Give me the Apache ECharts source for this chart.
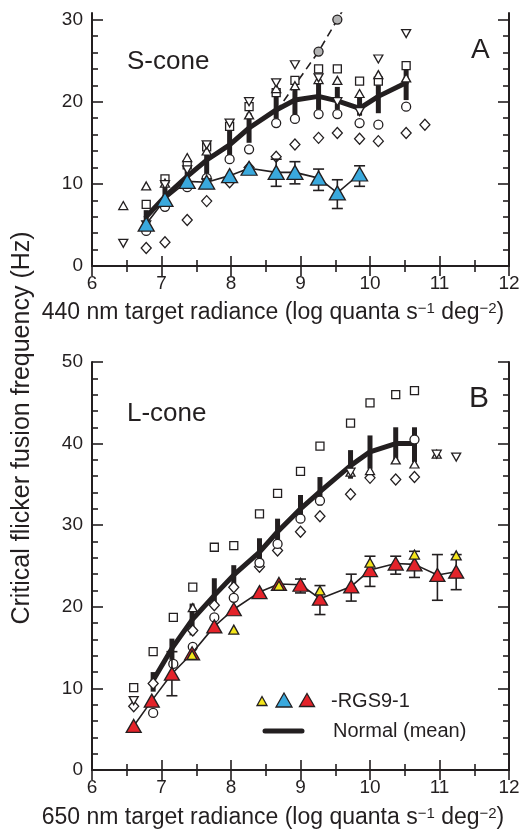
<!DOCTYPE html>
<html><head><meta charset="utf-8">
<script src="https://cdn.jsdelivr.net/npm/echarts@6/dist/echarts.min.js"></script>
<style>html,body{margin:0;padding:0;background:#fff}#c{width:520px;height:833px}</style>
</head><body><div id="c"></div>
<script>
// ---------- Tick values ----------
const xMajor = [6, 7, 8, 9, 10, 11, 12];
const xMinor = [6.5, 7.5, 8.5, 9.5, 10.5, 11.5];
const aYMajor = [0, 10, 20, 30];
const aYMinor = [2, 4, 6, 8, 12, 14, 16, 18, 22, 24, 26, 28];
const bYMajor = [0, 10, 20, 30, 40, 50];
const bYMinor = [2, 4, 6, 8, 12, 14, 16, 18, 22, 24, 26, 28, 32, 34, 36, 38, 42, 44, 46, 48];

// ---------- Panel A : S-cone (440 nm) ----------
const aMeanX = [6.78, 7.05, 7.37, 7.65, 7.98, 8.26, 8.65, 8.92, 9.26, 9.53, 9.85, 10.12, 10.52];
const aMeanY = [6.0, 8.45, 10.9, 12.9, 14.75, 16.8, 19.0, 20.2, 20.65, 20.1, 19.2, 20.65, 22.3];
const aMeanLo = [4.8, 7.6, 9.6, 10.6, 13.0, 15.0, 17.4, 18.0, 18.6, 19.0, 18.3, 18.6, 20.2];
const aMeanHi = [6.8, 9.6, 12.6, 15.0, 17.0, 18.6, 21.0, 22.0, 22.5, 21.8, 20.6, 23.2, 24.3];

const aTriUpX = [6.45, 6.78, 7.05, 7.37, 7.65, 8.26, 8.65, 8.92, 9.26, 9.53, 9.85, 10.12, 10.52];
const aTriUpY = [7.36, 9.75, 10.1, 13.2, 14.0, 18.4, 21.6, 21.95, 22.7, 22.6, 21.0, 23.3, 22.9];
const aTriDnX = [6.45, 6.78, 7.05, 7.37, 7.65, 7.98, 8.26, 8.65, 8.92, 9.26, 9.53, 9.85, 10.12, 10.52];
const aTriDnY = [2.76, 5.0, 9.9, 11.7, 14.75, 17.4, 20.0, 22.3, 24.5, 22.9, 20.0, 18.8, 25.2, 28.3];
const aSqX = [6.78, 7.05, 7.37, 7.65, 7.98, 8.26, 8.65, 8.92, 9.26, 9.53, 9.85, 10.12, 10.52];
const aSqY = [7.5, 10.6, 12.3, 14.5, 17.0, 19.4, 21.1, 22.6, 24.0, 24.0, 22.5, 22.5, 24.4];
const aCirX = [6.78, 7.05, 7.37, 7.65, 7.98, 8.26, 8.65, 8.92, 9.26, 9.53, 9.85, 10.12, 10.52];
const aCirY = [4.27, 7.2, 9.6, 10.7, 13.0, 14.2, 17.4, 17.9, 18.5, 18.5, 17.4, 17.2, 19.4];
const aDiaX = [6.78, 7.05, 7.37, 7.65, 7.98, 8.26, 8.65, 8.92, 9.26, 9.53, 9.85, 10.12, 10.52, 10.79];
const aDiaY = [2.2, 2.9, 5.6, 7.9, 10.2, 12.0, 13.3, 14.8, 15.6, 16.2, 15.5, 15.2, 16.2, 17.2];

const aRgsX = [6.78, 7.05, 7.37, 7.65, 7.98, 8.26, 8.65, 8.92, 9.26, 9.53, 9.85];
const aRgsY = [5.1, 8.1, 10.3, 10.2, 11.0, 11.9, 11.4, 11.4, 10.7, 8.9, 11.2];
const aRgsLo = [null, null, null, 9.8, null, null, 9.7, 10.0, 9.2, 7.0, 9.7];
const aRgsHi = [null, null, null, 10.6, null, null, 13.0, 12.7, 11.8, 10.5, 12.2];

const aGreyX = [9.26, 9.53];
const aGreyY = [26.1, 30.0];
const aDashX = [8.65, 9.26, 9.53, 9.75];
const aDashY = [18.8, 26.1, 30.0, 33.2];

// ---------- Panel B : L-cone (650 nm) ----------
const bMeanX = [6.88, 7.15, 7.44, 7.76, 8.04, 8.41, 8.67, 9.0, 9.28, 9.72, 10.0, 10.37, 10.64];
const bMeanY = [11.0, 14.9, 18.4, 21.4, 23.9, 26.7, 29.2, 32.0, 34.1, 37.3, 39.0, 40.0, 40.0];
const bMeanLo = [9.6, 13.5, 16.5, 19.8, 22.2, 25.1, 27.7, 30.4, 32.4, 35.7, 36.9, 37.7, 37.7];
const bMeanHi = [12.0, 16.1, 20.4, 23.5, 25.1, 28.4, 30.8, 33.7, 35.9, 39.2, 41.0, 42.0, 42.0];

const bSqX = [6.6, 6.88, 7.17, 7.45, 7.76, 8.04, 8.41, 8.67, 9.0, 9.28, 9.72, 10.0, 10.37, 10.64];
const bSqY = [10.1, 14.5, 18.7, 22.4, 27.3, 27.5, 31.4, 33.9, 36.6, 39.7, 42.5, 45.0, 46.0, 46.5];
const bDiaX = [6.6, 6.88, 7.45, 7.76, 8.04, 8.41, 8.67, 9.0, 9.28, 9.72, 10.0, 10.37, 10.64];
const bDiaY = [7.8, 10.6, 17.1, 20.2, 22.4, 24.9, 26.9, 29.2, 31.1, 33.8, 35.8, 35.6, 35.9];
const bCirX = [6.88, 7.17, 7.45, 7.76, 8.04, 8.41, 8.67, 9.0, 9.28, 10.64];
const bCirY = [7.0, 13.0, 15.1, 18.7, 21.1, 25.4, 27.7, 30.8, 33.0, 40.5];
const bTriUpX = [7.45, 9.72, 10.0, 10.37, 10.64, 10.96];
const bTriUpY = [19.9, 36.5, 36.7, 38.0, 37.5, 38.7];
const bTriDnX = [6.6, 9.72, 10.96, 11.24];
const bTriDnY = [8.5, 36.5, 38.7, 38.35];

const bRgsX = [6.6, 6.86, 7.15, 7.44, 7.76, 8.04, 8.41, 8.69, 9.0, 9.28, 9.73, 10.0, 10.37, 10.64, 10.97, 11.24];
const bRgsY = [5.4, 8.5, 11.8, 14.3, 17.6, 19.7, 21.8, 22.8, 22.7, 21.0, 22.5, 24.5, 25.3, 25.2, 23.9, 24.3];
const bRgsLo = [null, null, 9.1, null, null, null, null, null, 21.7, 19.05, 20.7, 22.5, 24.0, 23.6, 20.8, 22.1];
const bRgsHi = [null, null, 14.5, null, null, null, null, null, 23.4, 22.6, 24.0, 26.2, 26.2, 26.8, 26.4, 26.4];
const bYelX = [7.44, 8.04, 8.69, 9.28, 10.0, 10.64, 11.24];
const bYelY = [14.1, 17.2, 22.6, 22.0, 25.4, 26.4, 26.3];

// ---------- Build ----------
const FONT = "'Liberation Sans', Arial, Helvetica, sans-serif";
const INK = '#231f20';
const BLUE = '#3aa9dd', RED = '#e4232a', YEL = '#f4e51b';

const zip = (xs, ys) => xs.map((x, i) => [x, ys[i]]);
const zip3 = (xs, lo, hi) => xs.map((x, i) => [x, lo[i], hi[i]]).filter(d => d[1] != null);

const gA = {left: 92, right: 11, top: 13, height: 253, outerBoundsMode: 'none', containLabel: false};
const gB = {left: 92, right: 11, top: 362, height: 408, outerBoundsMode: 'none', containLabel: false};
const grids = [gA, Object.assign({}, gA), gB, Object.assign({}, gB)];

function xAx(grid, pos, vals, len, line, labels) {
  return {
    type: 'value', gridIndex: grid, position: pos, min: 6, max: 12,
    axisLine: {show: line, lineStyle: {color: INK, width: 2}},
    axisTick: {show: true, inside: true, length: len, customValues: vals, lineStyle: {color: INK, width: 1.6}},
    axisLabel: labels ? {show: true, customValues: xMajor, fontSize: 19, fontFamily: FONT, color: INK, margin: 8} : {show: false},
    splitLine: {show: false}
  };
}
function yAx(grid, pos, max, vals, len, line, labels) {
  return {
    type: 'value', gridIndex: grid, position: pos, min: 0, max: max,
    axisLine: {show: line, lineStyle: {color: INK, width: 2}},
    axisTick: {show: true, inside: true, length: len, customValues: vals, lineStyle: {color: INK, width: 1.6}},
    axisLabel: labels ? {show: true, customValues: labels, fontSize: 19, fontFamily: FONT, color: INK, margin: 9} : {show: false},
    splitLine: {show: false}
  };
}

const xAxis = [
  xAx(0, 'bottom', xMajor, 10, true, true),
  xAx(0, 'top', xMajor, 10, true, false),
  xAx(1, 'bottom', xMinor, 6, false, false),
  xAx(1, 'top', xMinor, 6, false, false),
  xAx(2, 'bottom', xMajor, 10, true, true),
  xAx(2, 'top', xMajor, 10, true, false),
  xAx(3, 'bottom', xMinor, 6, false, false),
  xAx(3, 'top', xMinor, 6, false, false)
];
const yAxis = [
  yAx(0, 'left', 30.8, aYMajor, 11, true, aYMajor),
  yAx(0, 'right', 30.8, aYMajor, 11, true, null),
  yAx(1, 'left', 30.8, aYMinor, 6, false, null),
  yAx(1, 'right', 30.8, aYMinor, 6, false, null),
  yAx(2, 'left', 50, bYMajor, 11, true, bYMajor),
  yAx(2, 'right', 50, bYMajor, 11, true, null),
  yAx(3, 'left', 50, bYMinor, 6, false, null),
  yAx(3, 'right', 50, bYMinor, 6, false, null)
];

function errSeries(ax, data, lw, capW, z) {
  return {
    type: 'custom', xAxisIndex: ax, yAxisIndex: ax, z: z, data: data,
    encode: {x: 0, y: [1, 2]},
    renderItem: function (params, api) {
      const x = api.value(0), lo = api.value(1), hi = api.value(2);
      const a = api.coord([x, lo]), b = api.coord([x, hi]);
      const st = {stroke: INK, lineWidth: lw, fill: null};
      const ch = [{type: 'line', shape: {x1: a[0], y1: a[1], x2: b[0], y2: b[1]}, style: st}];
      if (capW) {
        ch.push({type: 'line', shape: {x1: a[0] - capW / 2, y1: a[1], x2: a[0] + capW / 2, y2: a[1]}, style: st});
        ch.push({type: 'line', shape: {x1: b[0] - capW / 2, y1: b[1], x2: b[0] + capW / 2, y2: b[1]}, style: st});
      }
      return {type: 'group', children: ch};
    }
  };
}
function meanLine(ax, data) {
  return {type: 'line', xAxisIndex: ax, yAxisIndex: ax, data: data, symbol: 'none', z: 3,
    lineStyle: {color: INK, width: 5, join: 'round', cap: 'round'}, silent: true};
}
function thinLine(ax, data, z) {
  return {type: 'line', xAxisIndex: ax, yAxisIndex: ax, data: data, symbol: 'none', z: z,
    lineStyle: {color: INK, width: 1.6}, silent: true};
}
function scat(ax, data, symbol, size, fill, rot, z, bw) {
  return {type: 'scatter', xAxisIndex: ax, yAxisIndex: ax, data: data, symbol: symbol, symbolSize: size,
    symbolRotate: rot || 0, z: z || 5,
    itemStyle: {color: fill, borderColor: INK, borderWidth: bw || 1.3, opacity: 1}};
}

const A = 0, B = 4;
const series = [
  // Panel A
  errSeries(A, zip3(aMeanX, aMeanLo, aMeanHi), 5, 0, 3),
  meanLine(A, zip(aMeanX, aMeanY)),
  {type: 'line', xAxisIndex: A, yAxisIndex: A, data: zip(aDashX, aDashY), symbol: 'none', z: 4,
    lineStyle: {color: INK, width: 1.6, type: [8, 5]}},
  scat(A, zip(aGreyX, aGreyY), 'circle', 9, '#b3b3b3', 0, 6),
  scat(A, zip(aDiaX, aDiaY), 'diamond', [10, 11], '#fff'),
  scat(A, zip(aCirX, aCirY), 'circle', 9, '#fff'),
  scat(A, zip(aSqX, aSqY), 'rect', 8, '#fff'),
  scat(A, zip(aTriUpX, aTriUpY), 'triangle', [9, 8], '#fff'),
  scat(A, zip(aTriDnX, aTriDnY), 'triangle', [9, 8], '#fff', 180),
  thinLine(A, zip(aRgsX, aRgsY), 7),
  errSeries(A, zip3(aRgsX, aRgsLo, aRgsHi), 1.6, 11, 7),
  scat(A, zip(aRgsX, aRgsY), 'triangle', [16, 14], BLUE, 0, 8),
  // Panel B
  errSeries(B, zip3(bMeanX, bMeanLo, bMeanHi), 5, 0, 3),
  meanLine(B, zip(bMeanX, bMeanY)),
  scat(B, zip(bDiaX, bDiaY), 'diamond', [10, 11], '#fff'),
  scat(B, zip(bCirX, bCirY), 'circle', 9, '#fff'),
  scat(B, zip(bSqX, bSqY), 'rect', 8, '#fff'),
  scat(B, zip(bTriUpX, bTriUpY), 'triangle', [9, 8], '#fff'),
  scat(B, zip(bTriDnX, bTriDnY), 'triangle', [9, 8], '#fff', 180),
  thinLine(B, zip(bRgsX, bRgsY), 7),
  errSeries(B, zip3(bRgsX, bRgsLo, bRgsHi), 1.6, 11, 7),
  scat(B, zip(bRgsX, bRgsY), 'triangle', [15, 13], RED, 0, 8),
  scat(B, zip(bYelX, bYelY), 'triangle', [10, 9], YEL, 0, 9)
];

function txt(x, y, s, size, extra) {
  return Object.assign({type: 'text', x: x, y: y, z: 20,
    style: {text: s, fontSize: size, fontFamily: FONT, fill: INK, align: 'left', verticalAlign: 'middle'}}, extra || {});
}
function tri(cx, cy, w, h, fill) {
  return {type: 'polygon', z: 20, shape: {points: [[cx, cy - h / 2], [cx + w / 2, cy + h / 2], [cx - w / 2, cy + h / 2]]},
    style: {fill: fill, stroke: INK, lineWidth: 1.3}};
}
function axisTitle(nm, y) {
  return {type: 'text', x: 273, y: y, z: 20, style: {
    text: '{t|' + nm + ' nm target radiance (log quanta s}{s|\u22121}{t| deg}{s|\u22122}{t|)}',
    align: 'center', verticalAlign: 'middle',
    rich: {
      t: {fontSize: 23, fontFamily: FONT, fill: INK, color: INK},
      s: {fontSize: 15, fontFamily: FONT, fill: INK, color: INK, verticalAlign: 'top'}
    }
  }};
}

const yTitle = txt(22, 428, 'Critical flicker fusion frequency (Hz)', 25, {rotation: Math.PI / 2});
yTitle.style.align = 'center';

const graphic = [
  txt(127, 62, 'S-cone', 26),
  txt(471, 50, 'A', 28),
  txt(127, 414, 'L-cone', 26),
  txt(469, 399, 'B', 30),
  yTitle,
  axisTitle('440', 313),
  axisTitle('650', 818),
  tri(262, 701, 10, 9, YEL),
  tri(284, 700, 16, 14, BLUE),
  tri(307, 700, 15, 13, RED),
  txt(331, 701, '-RGS9-1', 20),
  {type: 'line', z: 20, shape: {x1: 265, y1: 731, x2: 302, y2: 731}, style: {stroke: INK, lineWidth: 5, lineCap: 'round'}},
  txt(333, 731, 'Normal (mean)', 20)
];

const chart = echarts.init(document.getElementById('c'), null, {renderer: 'canvas'});
chart.setOption({
  animation: false,
  backgroundColor: '#fff',
  grid: grids,
  xAxis: xAxis,
  yAxis: yAxis,
  series: series,
  graphic: graphic
});
</script></body></html>
